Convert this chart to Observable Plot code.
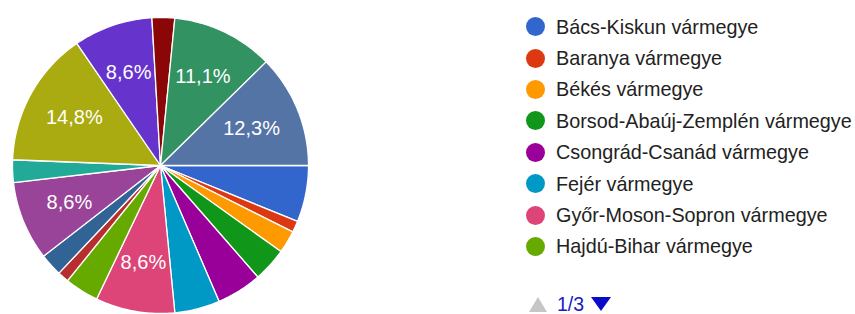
<!DOCTYPE html>
<html>
<head>
<meta charset="utf-8">
<script src="https://cdn.jsdelivr.net/npm/d3@7"></script>
<script src="https://cdn.jsdelivr.net/npm/@observablehq/plot@0.6"></script>
<style>
  html, body { margin: 0; padding: 0; background: #fff; }
  #wrap { position: relative; width: 855px; height: 314px; overflow: hidden; font-family: "Liberation Sans", Arial, sans-serif; }
  #chart { position: absolute; left: 0; top: 0; }
  #legend { position: absolute; left: 526px; top: 11px; }
  .item { display: flex; align-items: center; height: 31.4px; }
  .sw { width: 19px; height: 19px; border-radius: 50%; margin-right: 11px; flex: none; }
  .lbl { font-size: 19.8px; line-height: 22px; color: #222; white-space: nowrap; }
  #pager { position: absolute; left: 529px; top: 294px; height: 20px; display: flex; align-items: center; font-size: 19.5px; line-height: 20px; color: #1a1acc; }
  .up { width: 0; height: 0; border-left: 9px solid transparent; border-right: 9px solid transparent; border-bottom: 15px solid #c6c6c6; }
  .down { width: 0; height: 0; border-left: 10px solid transparent; border-right: 10px solid transparent; border-top: 14px solid #0a0acc; }
</style>
</head>
<body>
<div id="wrap">
  <div id="chart"></div>
  <div id="legend"></div>
  <div id="pager"><span class="up"></span><span style="margin:0 7px 0 10px">1/3</span><span class="down"></span></div>
</div>
<script>
const categories = [
  "Bács-Kiskun vármegye", "Baranya vármegye", "Békés vármegye", "Borsod-Abaúj-Zemplén vármegye",
  "Csongrád-Csanád vármegye", "Fejér vármegye", "Győr-Moson-Sopron vármegye", "Hajdú-Bihar vármegye",
  "Heves vármegye", "Jász-Nagykun-Szolnok vármegye", "Komárom-Esztergom vármegye", "Nógrád vármegye",
  "Pest vármegye", "Somogy vármegye", "Szabolcs-Szatmár-Bereg vármegye", "Tolna vármegye",
  "Vas vármegye", "Veszprém vármegye", "Zala vármegye"
];
const counts = [5, 1, 2, 3, 4, 4, 7, 3, 1, 2, 7, 2, 12, 7, 0, 2, 0, 9, 10];
const colors = [
  "#3366cc", "#dc3912", "#ff9900", "#109618", "#990099", "#0099c6", "#dd4477", "#66aa00",
  "#b82e2e", "#316395", "#994499", "#22aa99", "#aaaa11", "#6633cc", "#e67300", "#8b0707",
  "#651067", "#329262", "#5574a6"
];
const legendPageItems = 8;

const total = d3.sum(counts);
const startAngle = Math.PI / 2; // slices begin at 3 o'clock, clockwise

const pts = [];
const labels = [];
let cum = 0;
counts.forEach((v, i) => {
  if (v <= 0) return;
  const a0 = startAngle + cum / total * 2 * Math.PI;
  const a1 = startAngle + (cum + v) / total * 2 * Math.PI;
  cum += v;
  const n = Math.max(2, Math.ceil((a1 - a0) / (Math.PI / 180)));
  pts.push({slice: categories[i], x: 0, y: 0});
  for (let k = 0; k <= n; k++) {
    const a = a0 + (a1 - a0) * k / n;
    pts.push({slice: categories[i], x: Math.sin(a), y: Math.cos(a)});
  }
  pts.push({slice: categories[i], x: 0, y: 0});
  const pct = v / total * 100;
  if (pct >= 8) {
    const am = (a0 + a1) / 2;
    labels.push({x: 0.665 * Math.sin(am), y: 0.665 * Math.cos(am), text: pct.toFixed(1).replace(".", ",") + "%"});
  }
});

const chart = Plot.plot({
  width: 855,
  height: 314,
  margin: 0,
  x: {domain: [-1, 1], range: [12, 308], axis: null},
  y: {domain: [-1, 1], range: [313, 17], axis: null},
  color: {domain: categories, range: colors},
  marks: [
    Plot.line(pts, {x: "x", y: "y", z: "slice", fill: "slice", stroke: "white", strokeWidth: 1.3, strokeLinejoin: "round", curve: "linear"}),
    Plot.text(labels, {x: "x", y: "y", text: "text", fill: "white", fontSize: 20, fontFamily: "Liberation Sans, Arial, sans-serif"})
  ]
});
document.getElementById("chart").appendChild(chart);

const legend = document.getElementById("legend");
categories.slice(0, legendPageItems).forEach((c, i) => {
  const row = document.createElement("div");
  row.className = "item";
  row.innerHTML = `<span class="sw" style="background:${colors[i]}"></span><span class="lbl">${c}</span>`;
  legend.appendChild(row);
});
</script>
</body>
</html>
